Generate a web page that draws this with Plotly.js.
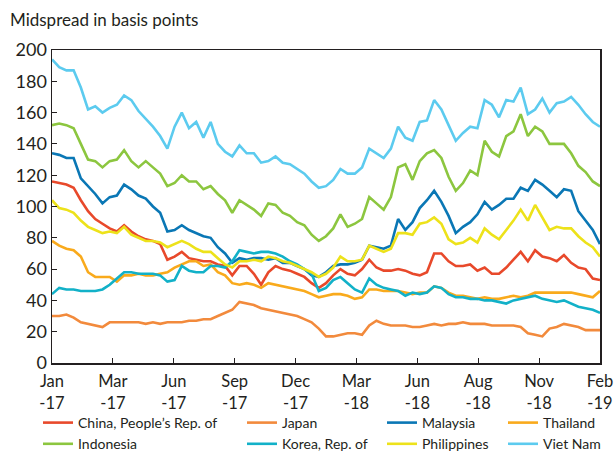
<!DOCTYPE html>
<html>
<head>
<meta charset="utf-8">
<script src="https://cdn.plot.ly/plotly-3.0.1.min.js"></script>
<style>html,body{margin:0;padding:0;background:#fff}#chart{width:616px;height:451px}</style>
</head>
<body>
<div id="chart"></div>
<script>
// Dates sampled every 10 days (2 Jan 2017 – 1 Feb 2019)
const dates = [
"2017-01-02","2017-01-12","2017-01-22","2017-02-01","2017-02-11","2017-02-21","2017-03-03","2017-03-13","2017-03-23","2017-04-02",
"2017-04-12","2017-04-22","2017-05-02","2017-05-12","2017-05-22","2017-06-01","2017-06-11","2017-06-21","2017-07-01","2017-07-11",
"2017-07-21","2017-07-31","2017-08-10","2017-08-20","2017-08-30","2017-09-09","2017-09-19","2017-09-29","2017-10-09","2017-10-19",
"2017-10-29","2017-11-08","2017-11-18","2017-11-28","2017-12-08","2017-12-18","2017-12-28","2018-01-07","2018-01-17","2018-01-27",
"2018-02-06","2018-02-16","2018-02-26","2018-03-08","2018-03-18","2018-03-28","2018-04-07","2018-04-17","2018-04-27","2018-05-07",
"2018-05-17","2018-05-27","2018-06-06","2018-06-16","2018-06-26","2018-07-06","2018-07-16","2018-07-26","2018-08-05","2018-08-15",
"2018-08-25","2018-09-04","2018-09-14","2018-09-24","2018-10-04","2018-10-14","2018-10-24","2018-11-03","2018-11-13","2018-11-23",
"2018-12-03","2018-12-13","2018-12-23","2019-01-02","2019-01-12","2019-01-22","2019-02-01"];

const china = [116,115,114,112,104,97,92,89,86,84, 88,84,81,79,78,76,66,68,71,67, 66,65,65,63,62,56,62,62,57,50,
  58,62,60,59,57,55,51,48,51,56, 60,57,56,60,66,61,59,59,60,59, 57,56,58,70,70,65,62,62,63,59,
  61,57,57,61,66,71,65,72,68,67, 65,69,64,61,60,54,53];
const japan = [30,30,31,29,26,25,24,23,26,26, 26,26,26,25,26,25,26,26,26,27, 27,28,28,30,32,34,39,38,37,35,
  34,33,32,31,30,28,26,22,17,17, 18,19,19,18,24,27,25,24,24,24, 23,23,24,25,24,25,25,26,25,25,
  25,24,24,24,24,23,19,18,17,22, 23,25,24,23,21,21,21];
const malaysia = [134,133,131,131,118,113,108,102,106,107, 114,111,107,105,100,96,84,85,88,85, 83,81,80,74,70,64,67,66,67,67,
  66,67,64,64,62,60,56,55,58,62, 63,63,64,66,75,74,73,75,92,85, 90,99,104,110,103,94,83,87,90,95,
  103,98,101,105,105,112,110,117,114,110, 106,111,110,97,91,85,76];
const thailand = [78,75,73,72,68,58,55,55,55,52, 56,56,57,56,56,57,58,61,63,65, 65,62,63,58,56,51,50,51,50,48,
  51,50,49,48,47,46,44,42,43,44, 44,43,41,42,47,47,46,46,46,45, 44,45,45,49,48,45,43,43,42,41,
  42,41,41,42,43,42,43,45,45,45, 45,45,45,44,43,42,46];
const indonesia = [152,153,152,150,140,130,129,125,129,130, 136,129,125,129,125,121,113,115,120,116, 116,111,113,108,104,96,104,101,98,94,
  102,101,96,94,90,88,82,78,81,86, 95,87,89,92,106,102,98,106,125,127, 117,129,134,136,131,119,110,115,123,120,
  142,135,132,145,148,159,145,151,148,140, 140,140,134,126,122,116,113];
const korea = [44,48,47,47,46,46,46,47,50,54, 58,58,57,57,57,56,52,53,62,59, 58,58,62,62,61,65,72,71,70,71,
  71,70,68,65,63,60,57,46,48,53, 55,51,47,45,54,50,48,47,46,43, 45,44,45,49,48,44,42,42,41,41,
  40,40,39,38,40,41,42,43,41,40, 39,40,38,36,35,34,32];
const philippines = [104,99,98,96,91,87,85,83,84,83, 87,82,80,78,78,77,74,76,78,76, 73,71,71,67,63,61,65,65,66,65,
  68,67,65,64,62,60,58,55,57,61, 68,65,65,66,75,73,71,73,83,83, 82,89,90,93,89,79,76,77,80,77,
  86,82,79,85,91,98,91,101,93,85, 87,86,86,81,77,74,68];
const vietnam = [194,189,187,187,176,162,164,160,163,165, 171,168,161,156,151,145,137,151,160,150, 154,144,154,140,135,132,139,134,134,128,
  129,132,128,127,124,121,116,112,113,117, 124,121,121,125,137,134,131,137,151,144, 142,154,155,168,162,152,142,147,151,150,
  168,165,157,168,167,176,159,162,169,160, 166,167,170,165,159,154,151];

const tickLabels = ["Jan<br>-17","Mar<br>-17","Jun<br>-17","Sep<br>-17","Dec<br>-17","Mar<br>-18","Jun<br>-18","Aug<br>-18","Nov<br>-18","Feb<br>-19"];
const yTicks = [0,20,40,60,80,100,120,140,160,180,200];

const seriesNames = ["China, People’s Rep. of","Japan","Malaysia","Thailand","Indonesia","Korea, Rep. of","Philippines","Viet Nam"];
const seriesData = [china, japan, malaysia, thailand, indonesia, korea, philippines, vietnam];
const seriesColors = ["#e8492b","#f28a3c","#0a77b5","#f9aa1c","#8cc63f","#12b1c8","#ede21a","#5ccbef"];
const seriesLegend = ["legend","legend2","legend3","legend4","legend","legend2","legend3","legend4"];

const traces = seriesData.map((ys, i) => ({
  x: dates, y: ys, type: "scatter", mode: "lines", name: seriesNames[i],
  line: {color: seriesColors[i], width: 2.6, shape: "linear"},
  legend: seriesLegend[i], hoverinfo: "skip"
}));

const t0 = new Date(dates[0] + "T00:00:00Z").getTime();
const t1 = new Date(dates[dates.length-1] + "T00:00:00Z").getTime();
const tickvals = tickLabels.map((_, i) => new Date(t0 + (t1 - t0) * i / (tickLabels.length - 1)).toISOString());
const xRange = [tickvals[0], tickvals[tickvals.length-1]];

const fontFam = "Lato, 'Open Sans', sans-serif";
const txtCol = "#231f20";
const tickFont = {family: fontFam, size: 18, color: txtCol};
const xTickFont = {family: fontFam, size: 16.5, color: txtCol};
const legBase = {orientation: "v", xanchor: "left", yanchor: "top", xref: "container", yref: "container",
  bgcolor: "rgba(0,0,0,0)", font: {family: fontFam, size: 14, color: txtCol}, itemwidth: 30, tracegroupgap: 0,
  y: 1 - 407/451};

const layout = {
  width: 616, height: 451,
  margin: {l: 52, r: 16, t: 50, b: 88, autoexpand: false},
  paper_bgcolor: "#ffffff", plot_bgcolor: "#ffffff",
  font: {family: fontFam, color: txtCol},
  title: {text: "Midspread in basis points", x: 10/616, xanchor: "left", xref: "container",
          y: 1 - 20/451, yanchor: "middle", yref: "container", font: {family: fontFam, size: 17, color: txtCol}},
  xaxis: {type: "date", range: xRange, tickmode: "array",
          tickvals: tickvals, ticktext: tickLabels, ticks: "inside", ticklen: 5, tickcolor: "#231f20",
          showline: true, linecolor: "#231f20", linewidth: 1.5, mirror: true, showgrid: false, zeroline: false,
          tickfont: xTickFont, ticklabelstandoff: 3},
  yaxis: {range: [0, 200], tickmode: "array", tickvals: yTicks, ticks: "inside", ticklen: 5, tickcolor: "#231f20",
          showline: true, linecolor: "#231f20", linewidth: 1.5, mirror: true, showgrid: false, zeroline: false,
          tickfont: tickFont},
  showlegend: true,
  legend: Object.assign({}, legBase, {x: 38/616}),
  legend2: Object.assign({}, legBase, {x: 242/616}),
  legend3: Object.assign({}, legBase, {x: 382/616}),
  legend4: Object.assign({}, legBase, {x: 503/616})
};

Plotly.newPlot("chart", traces, layout, {displayModeBar: false, staticPlot: true});
</script>
</body>
</html>
